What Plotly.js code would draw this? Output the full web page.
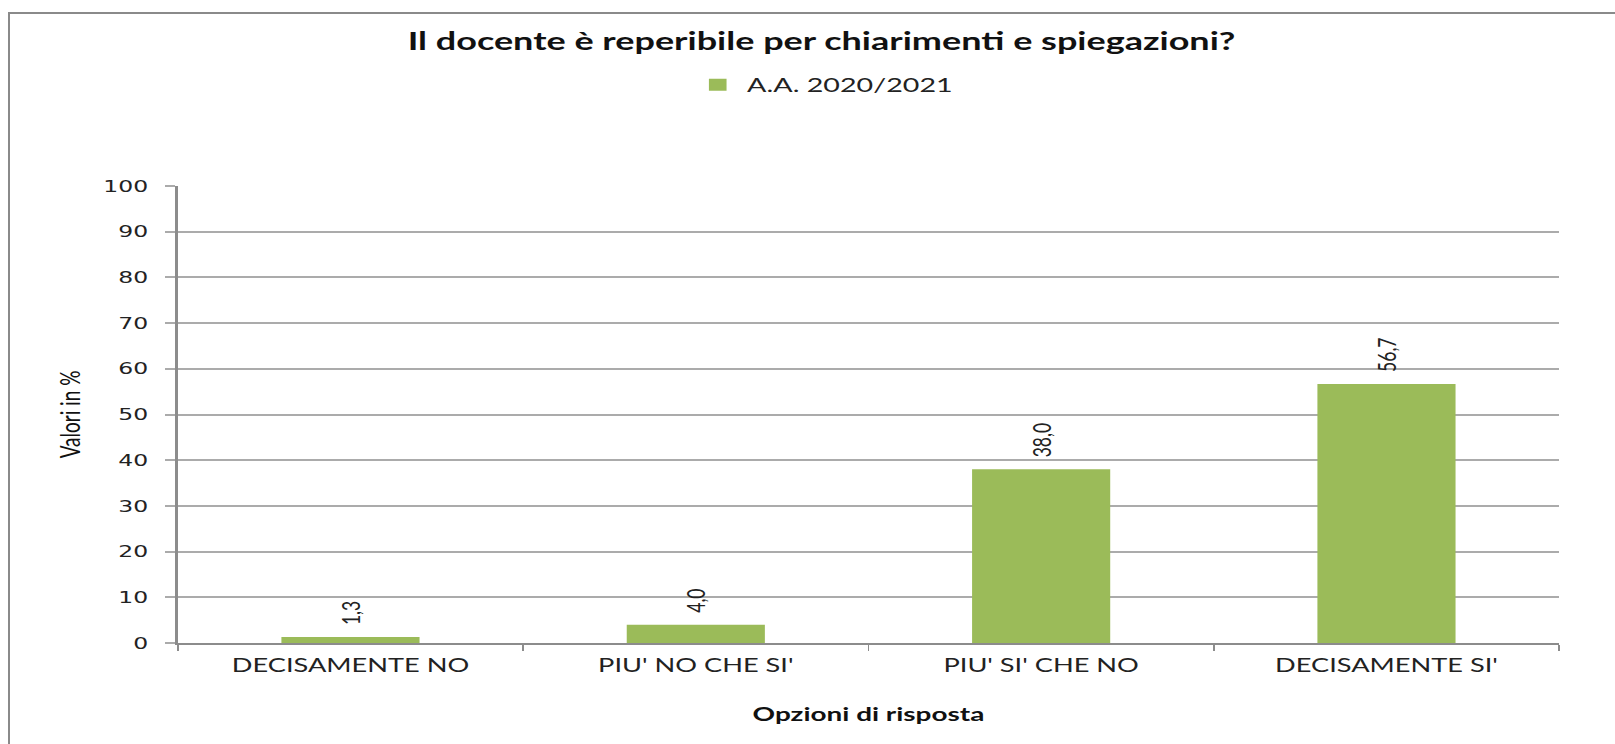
<!DOCTYPE html>
<html>
<head>
<meta charset="utf-8">
<script src="https://cdn.plot.ly/plotly-3.0.1.min.js"></script>
<style>
  html, body { margin: 0; padding: 0; background: #ffffff; overflow: hidden; }
  #wrap { position: relative; width: 1615px; height: 744px; overflow: hidden; }
  #plot { position: absolute; left: 0; top: 0; width: 1099px; height: 744px;
          transform: scaleX(1.4695); transform-origin: 0 0; }
  #frame { position: absolute; left: 8px; top: 12px; width: 1700px; height: 900px;
           border: 2px solid #8a8a8a; pointer-events: none; }
</style>
</head>
<body>
<div id="wrap">
  <div id="plot"></div>
  <div id="frame"></div>
</div>
<script>
// ---- data ----
const categories = ["DECISAMENTE NO", "PIU' NO CHE SI'", "PIU' SI' CHE NO", "DECISAMENTE SI'"];
const values = [1.3, 4.0, 38.0, 56.7];
const seriesName = "A.A. 2020/2021";
const yTickValues = [0, 10, 20, 30, 40, 50, 60, 70, 80, 90, 100];
const chartTitle = "Il docente è reperibile per chiarimenti e spiegazioni?";
const xTitle = "Opzioni di risposta";
const yTitle = "Valori in %";

const FONT = "Lato, 'Open Sans', sans-serif";
const WIDE = "'DejaVu Sans', Verdana, sans-serif";
const GRAY = "#8c8c8c";

const trace = {
  type: "bar",
  x: categories,
  y: values,
  name: seriesName,
  showlegend: true,
  marker: { color: "#9BBB59" },
  texttemplate: "\u00a0\u00a0%{y:.1f}",
  textposition: "outside",
  textangle: -90,
  cliponaxis: false,
  textfont: { family: FONT, size: 17.5, color: "#222222" },
  hoverinfo: "skip"
};

const layout = {
  width: 1099,
  height: 744,
  margin: { l: 120.5, r: 37.5, t: 186, b: 101, pad: 0 },
  paper_bgcolor: "rgba(0,0,0,0)",
  plot_bgcolor: "rgba(0,0,0,0)",
  separators: ",.",
  bargap: 0.6,
  title: {
    text: "<b>" + chartTitle + "</b>",
    font: { family: FONT, size: 24.5, color: "#111111" },
    xref: "container", yref: "container",
    x: 0.5087, xanchor: "center",
    y: 1 - 41 / 744, yanchor: "middle"
  },
  legend: {
    orientation: "h",
    x: 0.4680, xanchor: "center",
    y: 1.221, yanchor: "middle",
    font: { family: FONT, size: 19.5, color: "#222222" },
    bgcolor: "rgba(0,0,0,0)"
  },
  xaxis: {
    type: "category",
    showline: true, linecolor: GRAY, linewidth: 2,
    ticks: "outside", tickson: "boundaries", ticklen: 6, tickwidth: 1, tickcolor: GRAY,
    showgrid: false, zeroline: false,
    ticklabelstandoff: 5,
    tickfont: { family: FONT, size: 18.5, color: "#222222" },
    title: { text: "<b>" + xTitle + "</b>", font: { family: FONT, size: 19, color: "#111111" }, standoff: 33 },
    automargin: false
  },
  yaxis: {
    range: [0, 100],
    tickmode: "array", tickvals: yTickValues, ticktext: yTickValues.map(String),
    showgrid: true, gridcolor: "#ababab", gridwidth: 2,
    zeroline: false,
    showline: true, linecolor: GRAY, linewidth: 2,
    ticks: "outside", ticklen: 7, tickwidth: 2, tickcolor: "#ababab",
    ticklabelstandoff: 8,
    tickfont: { family: WIDE, size: 16, color: "#222222" },
    title: { text: yTitle, font: { family: FONT, size: 19, color: "#111111" }, standoff: 10 },
    automargin: false
  }
};

Plotly.newPlot("plot", [trace], layout, { displayModeBar: false, staticPlot: true });
</script>
</body>
</html>
